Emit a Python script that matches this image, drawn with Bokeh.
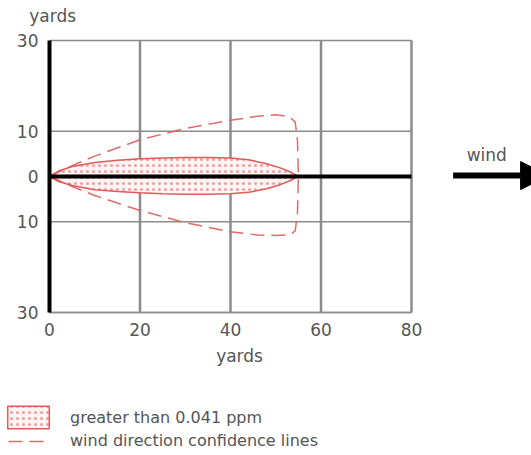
from bokeh.plotting import figure
from bokeh.models import (FixedTicker, Label, Arrow, NormalHead, Legend,
                          LegendItem, Range1d, LinearAxis)
from bokeh.embed import file_html
from bokeh.resources import INLINE

# ---- data ----
x_ticks = [0, 20, 40, 60, 80]
y_ticks = [-30, -10, 0, 10, 30]
y_tick_labels = {-30: "30", -10: "10", 0: "0", 10: "10", 30: "30"}

plume_x = [0, 2, 5, 10, 15, 20, 25, 30, 35, 40, 44, 48, 51, 53, 55]
plume_upper = [0, 1.2, 2.2, 3.1, 3.6, 3.9, 4.1, 4.2, 4.2, 4.1, 3.7, 2.8, 1.9, 1.1, 0]
plume_lower = [0, -1.1, -2.0, -2.9, -3.3, -3.6, -3.8, -3.9, -3.9, -3.8, -3.5, -2.7, -1.8, -1.0, 0]

conf_x = [0, 5, 10, 20, 30, 40, 46, 50, 53, 54.3, 54.8, 55, 54.8, 54.3, 53, 50, 46, 40, 30, 20, 10, 5, 0]
conf_y = [0, 2.4, 4.5, 8.1, 10.6, 12.4, 13.3, 13.6, 13.2, 12.0, 8.0, 0, -8.0, -12.0, -12.9, -13.0, -12.9, -12.2, -10.2, -7.5, -4.2, -2.2, 0]

FONT = "DejaVu Sans"
TXT = "#555555"
RED = "#e05a5a"
GRID = "#8c8c8c"
FS = "17px"
LFS = "16px"

# frame covers the whole canvas; data 0..80 x -30..30 sits at px 49..411 x 40..312
p = figure(width=531, height=455, output_backend="svg", toolbar_location=None,
           x_range=Range1d(-10.83, 106.52), y_range=Range1d(-61.54, 38.82),
           min_border=0)
p.axis.visible = False
p.grid.visible = False
p.outline_line_color = None
p.background_fill_color = "white"
p.border_fill_color = "white"

# grid lines and frame border (gray) at the tick positions
vx = [t for t in x_ticks if t != 0]
p.segment(x0=vx, y0=[y_ticks[0]] * len(vx), x1=vx, y1=[y_ticks[-1]] * len(vx),
          line_color=GRID, line_width=2.5)
hy = [t for t in y_ticks if t != 0]
p.segment(x0=[x_ticks[0]] * len(hy), y0=hy, x1=[x_ticks[-1]] * len(hy), y1=hy,
          line_color=GRID, line_width=1.5)

# plume
px = plume_x + plume_x[::-1]
py = plume_upper + plume_lower[::-1]
plume = p.patch(px, py, fill_color="#fff4f4", line_color=RED, line_width=1.5,
                hatch_pattern="dot", hatch_color="#e87878", hatch_scale=6,
                hatch_weight=1.1, hatch_alpha=0.7)

conf = p.line(conf_x, conf_y, line_color=RED, line_width=1.5, line_dash="14 7",
              line_alpha=0.9)

# centre line along y = 0
p.segment(x0=[x_ticks[0]], y0=[0], x1=[x_ticks[-1]], y1=[0],
          line_color="black", line_width=4)

# axes located inside the canvas
xax = LinearAxis(fixed_location=y_ticks[0], bounds=(x_ticks[0], x_ticks[-1]),
                 ticker=FixedTicker(ticks=x_ticks))
yax = LinearAxis(fixed_location=x_ticks[0], bounds=(y_ticks[0], y_ticks[-1]),
                 ticker=FixedTicker(ticks=y_ticks),
                 major_label_overrides=y_tick_labels)
for ax in (xax, yax):
    ax.major_tick_line_color = None
    ax.minor_tick_line_color = None
    ax.major_label_text_font = FONT
    ax.major_label_text_font_size = FS
    ax.major_label_text_color = TXT
xax.axis_line_color = GRID
xax.axis_line_width = 1.5
xax.major_label_standoff = 4
yax.axis_line_color = "black"
yax.axis_line_width = 4
yax.major_label_standoff = 5
p.add_layout(xax, "below")
p.add_layout(yax, "left")

# labels
p.add_layout(Label(x=0.7, y=35.3, text="yards", text_align="center",
                   text_baseline="middle", text_font=FONT,
                   text_font_size=FS, text_color=TXT))
p.add_layout(Label(x=42, y=-39.6, text="yards", text_align="center",
                   text_baseline="middle", text_font=FONT,
                   text_font_size=FS, text_color=TXT))
p.add_layout(Label(x=92.2, y=4.8, text="wind", text_align="left",
                   text_baseline="middle", text_font=FONT,
                   text_font_size=FS, text_color=TXT))

# wind arrow (tip runs just past the right edge, as in the reference)
p.add_layout(Arrow(x_start=89.2, y_start=0.2, x_end=110.3, y_end=0.2,
                   line_color="black", line_width=6,
                   end=NormalHead(size=28, fill_color="black", line_color="black")))

# legends
leg1 = Legend(items=[LegendItem(label="greater than 0.041 ppm", renderers=[plume])],
              location=(2, 24), orientation="vertical",
              border_line_color=None, background_fill_alpha=0,
              glyph_width=52, glyph_height=28, label_standoff=16,
              padding=0, spacing=0, margin=0,
              label_text_font=FONT, label_text_font_size=LFS,
              label_text_color=TXT)
leg2 = Legend(items=[LegendItem(label="wind direction confidence lines", renderers=[conf])],
              location=(8, 5), orientation="vertical",
              border_line_color=None, background_fill_alpha=0,
              glyph_width=42, glyph_height=18, label_standoff=20,
              padding=0, spacing=0, margin=0,
              label_text_font=FONT, label_text_font_size=LFS,
              label_text_color=TXT)
p.add_layout(leg1)
p.add_layout(leg2)

open("out.html", "w").write(file_html(p, INLINE))
